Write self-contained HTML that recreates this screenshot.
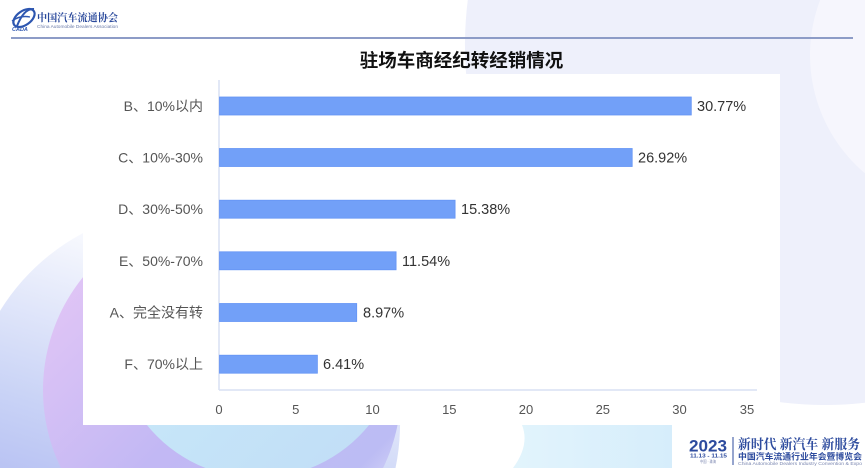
<!DOCTYPE html>
<html>
<head>
<meta charset="utf-8">
<style>
html,body{margin:0;padding:0;background:#fff;width:865px;height:468px;overflow:hidden;}
svg{display:block;position:absolute;left:0;top:0;}
text{font-family:"Liberation Sans","Noto Sans CJK SC",sans-serif;}
</style>
</head>
<body>
<svg width="865" height="468" viewBox="0 0 865 468" xmlns="http://www.w3.org/2000/svg" overflow="hidden">
  <defs>
    <linearGradient id="gOuter" gradientUnits="userSpaceOnUse" x1="97.6" y1="208" x2="-32" y2="640">
      <stop offset="0" stop-color="#ffffff"/>
      <stop offset="0.45" stop-color="#c9d3f6"/>
      <stop offset="1" stop-color="#959eec"/>
    </linearGradient>
    <linearGradient id="gPink" gradientUnits="userSpaceOnUse" x1="43" y1="211" x2="401" y2="569">
      <stop offset="0" stop-color="#ebc9f6"/>
      <stop offset="0.5" stop-color="#c2b8f4"/>
      <stop offset="0.8" stop-color="#bcbcf4"/>
      <stop offset="1" stop-color="#ffffff"/>
    </linearGradient>
    <linearGradient id="gCyan" gradientUnits="userSpaceOnUse" x1="115" y1="192" x2="401" y2="478">
      <stop offset="0" stop-color="#cbeefa"/>
      <stop offset="1" stop-color="#c0dcf6"/>
    </linearGradient>
    <linearGradient id="gCyan2" gradientUnits="userSpaceOnUse" x1="513" y1="0" x2="672" y2="0">
      <stop offset="0" stop-color="#e2f4fc"/>
      <stop offset="1" stop-color="#d6edfb"/>
    </linearGradient>
  </defs>

  <!-- background -->
  <rect x="0" y="0" width="865" height="468" fill="#ffffff"/>
  <path d="M467.8,0 A360,360 0 0 0 865,402.8 L865,0 Z" fill="#eef0fb"/>
  <path d="M820.1,0 A155,155 0 0 0 865,173.4 L865,0 Z" fill="#f6f6fd"/>
  <path d="M0,310.9 A216,216 0 0 1 395.5,468 L0,468 Z" fill="url(#gOuter)"/>
  <path d="M60.9,468 A179,179 0 1 1 383.1,468 Z" fill="url(#gPink)"/>
  <path d="M205.5,468 A143,143 0 1 1 310.5,468 Z" fill="url(#gCyan)"/>
  <path d="M522,425 Q530,445 513,468 L672,468 L672,425 Z" fill="url(#gCyan2)"/>

  <!-- header line -->
  <line x1="11" y1="38" x2="853" y2="38" stroke="#8d9cc7" stroke-width="2"/>

  <!-- top-left logo -->
  <g>
    <ellipse cx="24" cy="18" rx="12" ry="7" fill="none" stroke="#2d56b0" stroke-width="2.2" transform="rotate(-35 24 18)"/>
    <path d="M17,26 Q24,8 34,9" fill="none" stroke="#2d56b0" stroke-width="2"/>
    <path d="M12,21 Q20,15 30,17" fill="none" stroke="#2d56b0" stroke-width="1.4"/>
    <text x="12" y="31" font-size="5.5" font-weight="bold" font-style="italic" fill="#2d56b0">CADA</text>
    <text x="37" y="21" font-size="10.5" font-weight="bold" fill="#2b4a9c" style="font-family:'Noto Serif CJK SC',serif" textLength="81" lengthAdjust="spacingAndGlyphs">中国汽车流通协会</text>
    <text x="37" y="28" font-size="4.6" fill="#6a7aa8" textLength="81" lengthAdjust="spacingAndGlyphs">China Automobile Dealers Association</text>
  </g>

  <!-- chart panel -->
  <rect x="83" y="74" width="697" height="351" fill="#ffffff"/>

  <!-- title -->
  <text x="461.5" y="67" font-size="18.5" font-weight="bold" fill="#111" text-anchor="middle" style="font-family:'Noto Sans CJK SC','Liberation Sans',sans-serif">驻场车商经纪转经销情况</text>

  <!-- axes -->
  <line x1="219" y1="80" x2="219" y2="390" stroke="#d9e1f4" stroke-width="1.5"/>
  <line x1="219" y1="390" x2="757" y2="390" stroke="#d9e1f4" stroke-width="1.5"/>

  <!-- bars -->
  <g fill="#72a0f8" stroke="#6594f4" stroke-width="0.8">
    <rect x="219.5" y="97" width="471.8" height="18"/>
    <rect x="219.5" y="148.5" width="412.7" height="18"/>
    <rect x="219.5" y="200.2" width="235.6" height="18"/>
    <rect x="219.5" y="251.8" width="176.6" height="18"/>
    <rect x="219.5" y="303.5" width="137.2" height="18"/>
    <rect x="219.5" y="355.2" width="97.9" height="18"/>
  </g>

  <!-- category labels -->
  <g font-size="14" fill="#555" text-anchor="end">
    <text x="203" y="111">B、10%以内</text>
    <text x="203" y="162.5">C、10%-30%</text>
    <text x="203" y="214.2">D、30%-50%</text>
    <text x="203" y="265.8">E、50%-70%</text>
    <text x="203" y="317.5">A、完全没有转</text>
    <text x="203" y="369.2">F、70%以上</text>
  </g>

  <!-- value labels -->
  <g font-size="14.5" fill="#333">
    <text x="697" y="111">30.77%</text>
    <text x="638" y="162.5">26.92%</text>
    <text x="461" y="214.2">15.38%</text>
    <text x="402" y="265.8">11.54%</text>
    <text x="363" y="317.5">8.97%</text>
    <text x="323" y="369.2">6.41%</text>
  </g>

  <!-- x tick labels -->
  <g font-size="13" fill="#555" text-anchor="middle">
    <text x="219" y="414">0</text>
    <text x="295.8" y="414">5</text>
    <text x="372.5" y="414">10</text>
    <text x="449.3" y="414">15</text>
    <text x="526" y="414">20</text>
    <text x="602.8" y="414">25</text>
    <text x="679.5" y="414">30</text>
    <text x="747" y="414">35</text>
  </g>

  <!-- bottom-right logo -->
  <g>
    <text x="689" y="451.5" font-size="17" font-weight="bold" fill="#2d4b9e" textLength="38" lengthAdjust="spacingAndGlyphs">2023</text>
    <text x="690" y="457.5" font-size="5.3" font-weight="bold" fill="#2d4b9e" textLength="37" lengthAdjust="spacingAndGlyphs">11.13 - 11.15</text>
    <text x="700" y="463" font-size="4" fill="#7a86b0" textLength="16" lengthAdjust="spacingAndGlyphs">中国 · 珠海</text>
    <line x1="733" y1="437" x2="733" y2="465" stroke="#2d4b9e" stroke-width="1"/>
    <text x="738" y="449" font-size="13.5" font-weight="bold" fill="#2d4b9e" style="font-family:'Noto Serif CJK SC',serif" textLength="122" lengthAdjust="spacingAndGlyphs">新时代 新汽车 新服务</text>
    <text x="738" y="459.5" font-size="8.8" font-weight="bold" fill="#2d4b9e" textLength="124" lengthAdjust="spacingAndGlyphs">中国汽车流通行业年会暨博览会</text>
    <text x="738" y="465" font-size="4.4" fill="#7a86b0" textLength="124" lengthAdjust="spacingAndGlyphs">China Automobile Dealers Industry Convention &amp; Expo</text>
  </g>
</svg>
</body>
</html>
